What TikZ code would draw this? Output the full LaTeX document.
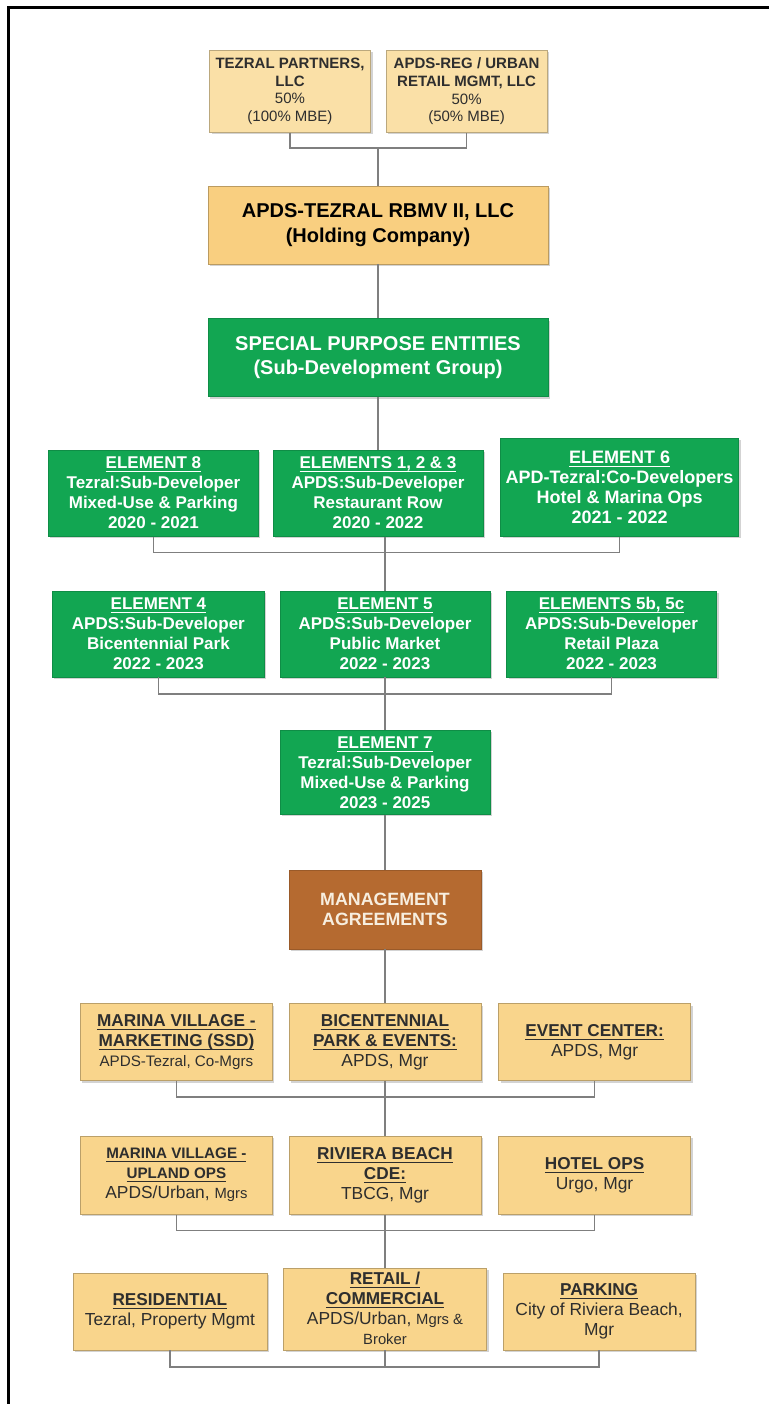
\documentclass[tikz,border=0pt]{standalone}
\usepackage{fontspec}
\setmainfont{Liberation Sans}
\usetikzlibrary{positioning, shadows}
\definecolor{ownertan}{HTML}{FAE0A7}
\definecolor{holdtan}{HTML}{F9CF80}
\definecolor{mgrtan}{HTML}{F9D58C}
\definecolor{spegreen}{HTML}{12A652}
\definecolor{mgmtbrown}{HTML}{B56A30}
\definecolor{linkgray}{HTML}{7F7F7F}
\definecolor{inkgray}{HTML}{2E2E2E}
\definecolor{cream}{HTML}{F7EEDF}
\newcommand{\hd}[1]{\underline{\smash{#1}\vphantom{E}}}
\newcommand{\fs}[2]{\fontsize{#1}{#2}\selectfont}
\tikzstyle{boxshadow} = [drop shadow={shadow xshift=1pt, shadow yshift=-1pt, opacity=0.35}]
\tikzstyle{owner} = [rectangle, minimum width=80.5pt, minimum height=41pt, inner sep=1pt, align=center, draw=ownertan!75!black, line width=0.3pt, fill=ownertan, text=inkgray, font=\fs{7.5}{8.8}, boxshadow]
\tikzstyle{holdco} = [rectangle, minimum width=170pt, minimum height=39pt, inner sep=1pt, align=center, draw=holdtan!75!black, line width=0.3pt, fill=holdtan, text=black, font=\bfseries\fs{10}{12.5}, boxshadow]
\tikzstyle{element} = [rectangle, minimum width=105pt, minimum height=43pt, inner sep=1pt, align=center, draw=spegreen!85!black, line width=0.3pt, fill=spegreen, text=white, font=\bfseries\fs{8.5}{10}, boxshadow]
\tikzstyle{mgmt} = [rectangle, minimum width=96pt, minimum height=39.5pt, inner sep=1pt, align=center, draw=mgmtbrown!85!black, line width=0.3pt, fill=mgmtbrown, text=cream, font=\bfseries\fs{8.9}{10}, boxshadow]
\tikzstyle{mgr} = [rectangle, minimum width=96pt, minimum height=38.5pt, inner sep=1pt, align=center, draw=mgrtan!75!black, line width=0.3pt, fill=mgrtan, text=inkgray, font=\fs{8.7}{10}, boxshadow]
\tikzstyle{link} = [draw=linkgray, line width=0.8pt]

\begin{document}
\begin{tikzpicture}
\useasboundingbox (0,0) rectangle (384.5pt,-702pt);
\draw [line width=1.5pt] (4pt,-702pt) |- (384.5pt,-3.5pt);

\node (holding) [holdco] at (189pt,-112.5pt) {APDS-TEZRAL RBMV II, LLC\\ (Holding Company)};
\node (tezral) [owner, above=26.5pt of holding, xshift=-44pt] {\textbf{TEZRAL PARTNERS,}\\ \textbf{LLC}\\ 50\%\\ (100\% MBE)};
\node (apdsreg) [owner, right=7.5pt of tezral] {\textbf{APDS-REG / URBAN}\\ \textbf{RETAIL MGMT, LLC}\\ 50\%\\ (50\% MBE)};
\node (spe) [holdco, fill=spegreen, draw=spegreen!85!black, text=white, font=\bfseries\fs{10}{12}, below=27pt of holding] {SPECIAL PURPOSE ENTITIES\\ (Sub-Development Group)};

\node (e123) [element, below=26.5pt of spe] {\hd{ELEMENTS 1, 2 \& 3}\\ APDS:Sub-Developer\\ Restaurant Row\\ 2020 - 2022};
\node (e8) [element, left=7pt of e123] {\hd{ELEMENT 8}\\ Tezral:Sub-Developer\\ Mixed-Use \& Parking\\ 2020 - 2021};
\node (e6) [element, minimum width=119pt, minimum height=49pt, font=\bfseries\fs{9}{10}, right=8.5pt of e123, yshift=3pt] {\hd{ELEMENT 6}\\ APD-Tezral:Co-Developers\\ Hotel \& Marina Ops\\ 2021 - 2022};

\node (e5) [element, below=27pt of e123, xshift=3.5pt] {\hd{ELEMENT 5}\\ APDS:Sub-Developer\\ Public Market\\ 2022 - 2023};
\node (e4) [element, minimum width=106pt, left=7.5pt of e5] {\hd{ELEMENT 4}\\ APDS:Sub-Developer\\ Bicentennial Park\\ 2022 - 2023};
\node (e5b) [element, right=8pt of e5] {\hd{ELEMENTS 5b, 5c}\\ APDS:Sub-Developer\\ Retail Plaza\\ 2022 - 2023};

\node (e7) [element, minimum height=42pt, below=26.5pt of e5] {\hd{ELEMENT 7}\\ Tezral:Sub-Developer\\ Mixed-Use \& Parking\\ 2023 - 2025};
\node (mgmt) [mgmt, below=27.5pt of e7] {MANAGEMENT\\ AGREEMENTS};

\node (bpe) [mgr, below=27pt of mgmt] {\textbf{\fs{8.6}{10}\hd{BICENTENNIAL}}\\ \textbf{\fs{8.6}{10}\hd{PARK \& EVENTS:}}\\ APDS, Mgr};
\node (mvm) [mgr, left=8pt of bpe] {\textbf{\fs{8.6}{10}\hd{MARINA VILLAGE -}}\\ \textbf{\fs{8.6}{10}\hd{MARKETING (SSD)}}\\ {\fs{7.6}{9}APDS-Tezral, Co-Mgrs}};
\node (ec) [mgr, right=8.5pt of bpe] {\textbf{\fs{8.6}{10}\hd{EVENT CENTER:}}\\ APDS, Mgr};

\node (rbc) [mgr, minimum height=39pt, below=27.5pt of bpe] {\textbf{\fs{8.6}{10}\hd{RIVIERA BEACH}}\\ \textbf{\fs{8.6}{10}\hd{CDE:}}\\ TBCG, Mgr};
\node (mvu) [mgr, minimum height=39pt, left=8pt of rbc] {\textbf{\fs{7.6}{9}\hd{MARINA VILLAGE -}}\\ \textbf{\fs{7.6}{9}\hd{UPLAND OPS}}\\ APDS/Urban, {\fs{7.4}{9}Mgrs}};
\node (hotel) [mgr, minimum height=39pt, right=8.5pt of rbc] {\textbf{\fs{8.6}{10}\hd{HOTEL OPS}}\\ Urgo, Mgr};

\node (retail) [mgr, minimum width=101.5pt, minimum height=41pt, below=26.5pt of rbc] {\textbf{\fs{8.6}{10}\hd{RETAIL /}}\\ \textbf{\fs{8.6}{10}\hd{COMMERCIAL}}\\ APDS/Urban, {\fs{7.4}{9}Mgrs \&}\\ {\fs{7.4}{9}Broker}};
\node (res) [mgr, minimum width=97pt, left=8pt of retail, yshift=-1.25pt] {\textbf{\fs{8.6}{10}\hd{RESIDENTIAL}}\\ Tezral, Property Mgmt};
\node (park) [mgr, right=8pt of retail, yshift=-1.25pt] {\textbf{\fs{8.6}{10}\hd{PARKING}}\\ City of Riviera Beach,\\ Mgr};

\coordinate (bus0) at ([yshift=-7.5pt]tezral.south -| holding.north);
\coordinate (bus1) at ([yshift=-8pt]e123.south -| e5.north);
\coordinate (bus2) at ([yshift=-8.5pt]e5.south);
\coordinate (bus3) at ([yshift=-8pt]bpe.south);
\coordinate (bus4) at ([yshift=-8pt]rbc.south);
\coordinate (bus5) at ([yshift=-8.5pt]retail.south);

\draw [link] (tezral) |- (bus0) -| (apdsreg);
\draw [link] (bus0) -- (holding);
\draw [link] (holding) -- (spe);
\draw [link] (spe) -- (e123);
\draw [link] (e8) |- (bus1) -| (e6);
\draw [link] (e123.south -| e5.north) -- (e5);
\draw [link] (e4) |- (bus2) -| (e5b);
\draw [link] (e5) -- (e7);
\draw [link] (e7) -- (mgmt);
\draw [link] (mgmt) -- (bpe);
\draw [link] (mvm) |- (bus3) -| (ec);
\draw [link] (bpe) -- (rbc);
\draw [link] (mvu) |- (bus4) -| (hotel);
\draw [link] (rbc) -- (retail);
\draw [link] (res) |- (bus5) -| (park);
\draw [link] (retail) -- (bus5);



\end{tikzpicture}
\end{document}
